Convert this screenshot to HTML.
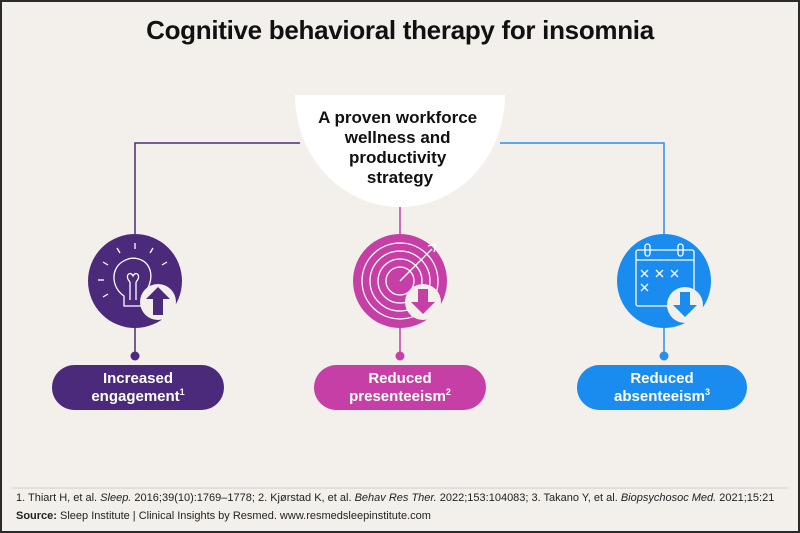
<!DOCTYPE html>
<html><head><meta charset="utf-8"><style>
html,body{margin:0;padding:0}
body{width:800px;height:533px;background:#f3f0eb;font-family:"Liberation Sans",sans-serif;position:relative;overflow:hidden;box-sizing:border-box;border:2px solid #2a2a2a}
.t{position:absolute;left:0;width:796px;top:13px;text-align:center;font-weight:bold;font-size:26px;color:#111;letter-spacing:-0.3px}
.pill{position:absolute;top:363px;height:45px;border-radius:23px;color:#fff;font-weight:bold;font-size:15px;line-height:18px;text-align:center;display:flex;align-items:center;justify-content:center}
.pill sup{font-size:9px;vertical-align:6px;line-height:0}
.fn{position:absolute;left:14px;font-size:11px;color:#222}
</style></head><body>
<div class="t">Cognitive behavioral therapy for insomnia</div>
<svg width="800" height="533" style="position:absolute;left:-2px;top:-2px">
<defs><clipPath id="cp"><rect x="0" y="95" width="800" height="200"/></clipPath></defs>
<polyline points="300,143 135,143 135,360" fill="none" stroke="#4b2a7b" stroke-width="1.5"/>
<polyline points="500,143 664,143 664,360" fill="none" stroke="#2a8ef0" stroke-width="1.5"/>
<line x1="400" y1="200" x2="400" y2="360" stroke="#c63fa6" stroke-width="1.5"/>
<circle cx="135" cy="356" r="4.5" fill="#4b2a7b"/>
<circle cx="400" cy="356" r="4.5" fill="#c63fa6"/>
<circle cx="664" cy="356" r="4.5" fill="#2a8ef0"/>
<ellipse cx="400" cy="95" rx="105" ry="112" fill="#fff" clip-path="url(#cp)"/>
<text font-family="Liberation Sans,sans-serif" font-weight="bold" font-size="17" fill="#111" text-anchor="middle">
<tspan x="400" y="123">A proven workforce</tspan>
<tspan x="400" y="143">wellness and</tspan>
<tspan x="400" y="163">productivity</tspan>
<tspan x="400" y="183">strategy</tspan>
</text>
<circle cx="135" cy="281" r="47" fill="#4b2a7b"/>
<g stroke="#fff" stroke-width="1.3" fill="none">
<path d="M124,306 L124,296 C112,288 110,270 122,262 C132,255 146,258 150,270 C153,280 148,290 142,296 L142,306 Z"/>
<path d="M130,300 L130,282 M136,300 L136,282 M130,282 C124,276 130,270 133,276 C136,270 142,276 136,282"/>
<line x1="135" y1="243" x2="135" y2="249"/><line x1="117" y1="248" x2="120" y2="253"/><line x1="153" y1="248" x2="150" y2="253"/>
<line x1="103" y1="262" x2="108" y2="265"/><line x1="167" y1="262" x2="162" y2="265"/>
<line x1="98" y1="280" x2="104" y2="280"/><line x1="103" y1="297" x2="108" y2="294"/>
</g>
<circle cx="158" cy="302" r="18" fill="#f3f0eb"/>
<path d="M158,287 L170,299 L163,299 L163,315 L153,315 L153,299 L146,299 Z" fill="#4b2a7b"/>
<circle cx="400" cy="281" r="47" fill="#c63fa6"/>
<g stroke="#fff" stroke-width="1.3" fill="none">
<circle cx="400" cy="281" r="38"/><circle cx="400" cy="281" r="30"/><circle cx="400" cy="281" r="22"/><circle cx="400" cy="281" r="14"/>
<line x1="400" y1="281" x2="432" y2="249"/><path d="M428,246 L436,244 L434,252"/>
</g>
<circle cx="423" cy="302" r="18" fill="#f3f0eb"/>
<path d="M418,289 L428,289 L428,302 L435,302 L423,314 L411,302 L418,302 Z" fill="#c63fa6"/>
<circle cx="664" cy="281" r="47" fill="#1a8cf0"/>
<g stroke="#fff" stroke-width="1.3" fill="none">
<rect x="636" y="250" width="58" height="56" rx="2"/>
<line x1="636" y1="260" x2="694" y2="260"/>
<rect x="645" y="244" width="5" height="12" rx="2.5"/><rect x="678" y="244" width="5" height="12" rx="2.5"/>
<path d="M641,270 l7,7 m0,-7 l-7,7 M656,270 l7,7 m0,-7 l-7,7 M671,270 l7,7 m0,-7 l-7,7 M641,284 l7,7 m0,-7 l-7,7"/>
</g>
<circle cx="685" cy="305" r="18" fill="#f3f0eb"/>
<path d="M680,292 L690,292 L690,305 L697,305 L685,317 L673,305 L680,305 Z" fill="#1a8cf0"/>
<line x1="12" y1="488" x2="788" y2="488" stroke="#cfcac4" stroke-width="1"/>
</svg>
<div class="pill" style="left:50px;width:172px;background:#4b2a7b"><div>Increased<br>engagement<sup>1</sup></div></div>
<div class="pill" style="left:312px;width:172px;background:#c63fa6"><div>Reduced<br>presenteeism<sup>2</sup></div></div>
<div class="pill" style="left:575px;width:170px;background:#1a8cf0"><div>Reduced<br>absenteeism<sup>3</sup></div></div>
<div class="fn" style="top:490px">1. Thiart H, et al. <i>Sleep.</i> 2016;39(10):1769–1778; 2. Kjørstad K, et al. <i>Behav Res Ther.</i> 2022;153:104083; 3. Takano Y, et al. <i>Biopsychosoc Med.</i> 2021;15:21</div>
<div class="fn" style="top:508px"><b>Source:</b> Sleep Institute | Clinical Insights by Resmed. www.resmedsleepinstitute.com</div>
</body></html>
